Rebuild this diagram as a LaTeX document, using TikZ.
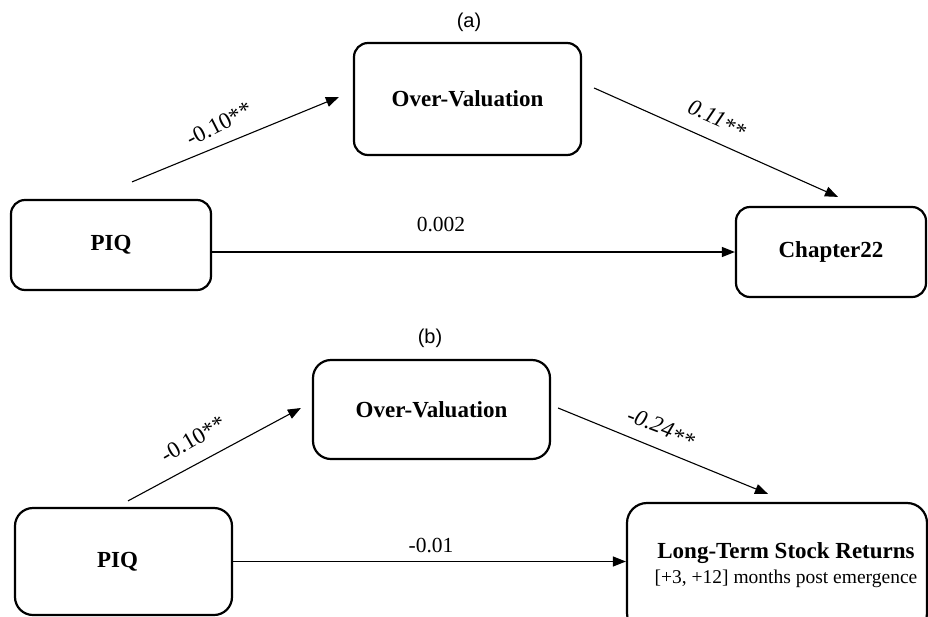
\documentclass[tikz,border=0pt]{standalone}
\usepackage{fontspec}
\setmainfont{Liberation Serif}
\newfontfamily\arialfont{Liberation Sans}
\usetikzlibrary{arrows.meta,calc}
\begin{document}
\begin{tikzpicture}[x=1pt,y=-1pt,
  box/.style={draw, line width=2.2pt, rounded corners=14pt, align=center, inner sep=0pt,
    font=\fontsize{23}{25}\selectfont\bfseries},
  conn/.style={line width=1.1pt, -{Triangle[length=13pt,width=10pt]}},
  lbl/.style={font=\fontsize{21.5}{25}\selectfont, inner sep=0pt},
  slbl/.style={font=\fontsize{23}{25}\selectfont, inner sep=0pt},
  panel/.style={font=\arialfont\fontsize{20}{24}\selectfont, inner sep=0pt}]
\clip (0,0) rectangle (928,616);
\fill[white] (0,0) rectangle (928,616);

% panel (a)
\node[panel] (pa) at (469,22) {(a)};
\node[box, minimum width=227pt, minimum height=112pt] (OVa) at (467.5,99) {Over-Valuation};
\node[box, minimum width=200pt, minimum height=90pt] (PIQa) at (111,245) {PIQ};
\node[box, minimum width=190pt, minimum height=90pt] (CHa) at (831,252) {Chapter22};

\draw[conn] ($(PIQa.north)+(21,-17)$) -- ($(OVa.west)+(-14,-2)$);
\draw[conn] ($(OVa.east)+(12,-11)$) -- ($(CHa.north)+(7,-9)$);
\draw[conn] (PIQa.east |- CHa.west) -- (CHa.west);

\node[slbl, rotate=27] (la1) at (219,124) {-0.10**};
\node[slbl, rotate=-24] (la2) at (717,119) {\itshape 0.11\raisebox{-3pt}{**}};
\node[lbl] (la3) at (441,224) {0.002};

% panel (b)
\node[panel] (pb) at (430,338) {(b)};
\node[box, rounded corners=18pt, minimum width=237pt, minimum height=99pt] (OVb) at (431.5,409.5) {Over-Valuation};
\node[box, rounded corners=18pt, minimum width=217pt, minimum height=107pt] (PIQb) at (123.5,561.5) {};
\node[inner sep=0pt, font=\fontsize{23}{25}\selectfont\bfseries] (PIQbtext) at ($(PIQb.center)+(-6,0)$) {PIQ};
\node[box, rounded corners=20pt, minimum width=300pt, minimum height=130pt] (LT) at (777,568) {};
\node[align=center, inner sep=0pt, font=\fontsize{23}{25}\selectfont] (LTtext) at ($(LT.center)+(9,-3)$)
  {\bfseries Long-Term Stock Returns\\ {\fontsize{19.5}{25}\selectfont [+3, +12] months post emergence}};

\draw[conn] ($(PIQb.north)+(4.5,-6)$) -- ($(OVb.west)+(-11,-1.5)$);
\draw[conn] ($(OVb.east)+(7,-1.5)$) -- ($(LT.north)+(-9,-8)$);
\draw[conn] (PIQb.east) -- (PIQb.east -| LT.west);

\node[slbl, rotate=30] (lb1) at (193,439) {-0.10**};
\node[slbl, rotate=-21] (lb2) at (661,428) {\itshape -0.24\raisebox{-3pt}{**}};
\node[lbl] (lb3) at (431,545) {-0.01};
\end{tikzpicture}
\end{document}
